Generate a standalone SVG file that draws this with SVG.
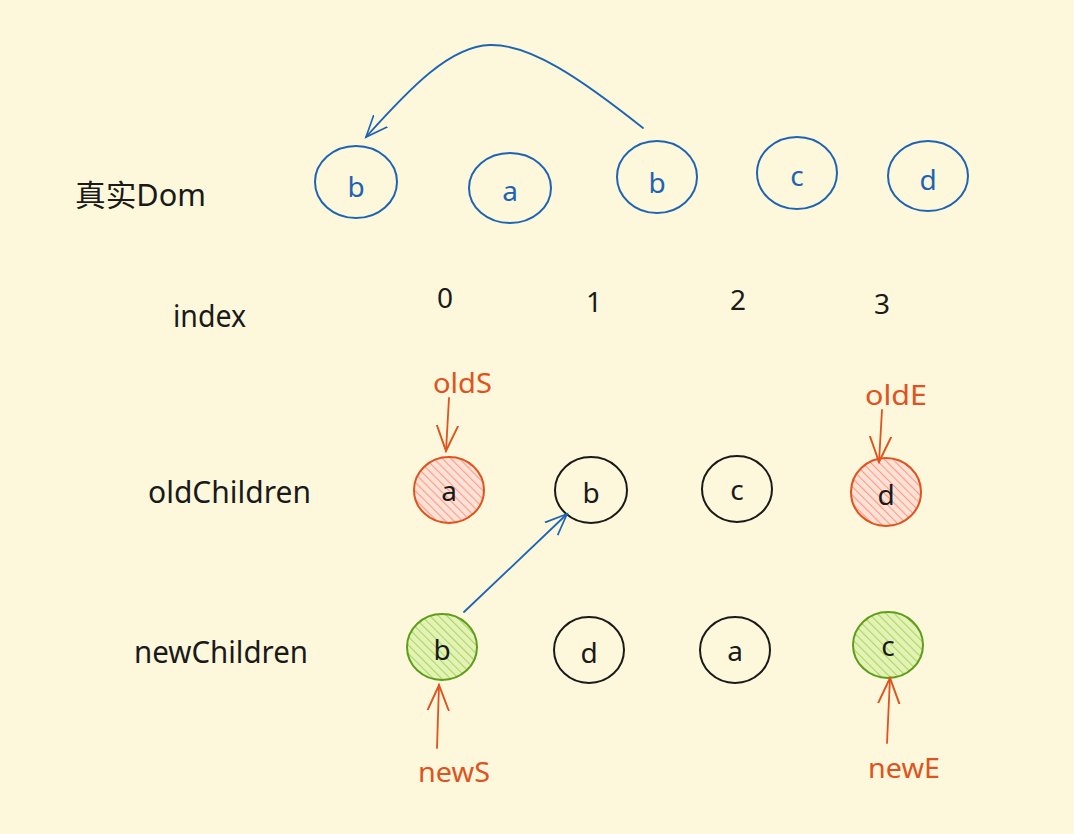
<svg xmlns="http://www.w3.org/2000/svg" width="1074" height="834" viewBox="0 0 1074 834">
<defs>
<pattern id="hatchRed" patternUnits="userSpaceOnUse" width="6" height="6" patternTransform="rotate(-45)">
<rect width="6" height="6" fill="#fde2d6"/>
<line x1="0" y1="0" x2="0" y2="6" stroke="#ff9a8a" stroke-width="2.2"/>
</pattern>
<pattern id="hatchGreen" patternUnits="userSpaceOnUse" width="6" height="6" patternTransform="rotate(-45)">
<rect width="6" height="6" fill="#e4f2b8"/>
<line x1="0" y1="0" x2="0" y2="6" stroke="#a9d95a" stroke-width="2.2"/>
</pattern>
<marker id="arrBlue" viewBox="0 0 20 20" refX="18" refY="10" markerWidth="24" markerHeight="24" markerUnits="userSpaceOnUse" orient="auto">
<path d="M0,2.5 L18,10 L0,17.5" fill="none" stroke="#1e64b4" stroke-width="1.4" stroke-linecap="round"/>
</marker>
<marker id="arrOrange" viewBox="0 0 20 20" refX="18" refY="10" markerWidth="28" markerHeight="28" markerUnits="userSpaceOnUse" orient="auto">
<path d="M0,2.5 L18,10 L0,17.5" fill="none" stroke="#e0531f" stroke-width="1.4" stroke-linecap="round"/>
</marker>
</defs>
<style>
text{font-family:"Noto Sans","Noto Sans CJK SC",sans-serif;}
.lbl{font-size:30px;fill:#1a1a1a;}
.num{font-size:28px;fill:#1a1a1a;text-anchor:middle;}
.ptr{font-size:28px;fill:#e0531f;}
.ltr{font-size:28px;text-anchor:middle;fill:#1a1a1a;}
.bl{fill:none;stroke:#1e64b4;stroke-width:2;}
.blt{font-size:28px;text-anchor:middle;fill:#1e64b4;}
.bk{fill:none;stroke:#1a1a1a;stroke-width:2;}
.rd{fill:url(#hatchRed);stroke:#e0531f;stroke-width:2;}
.gr{fill:url(#hatchGreen);stroke:#5e9e1c;stroke-width:2;}
.cb{fill:none;stroke:#1e64b4;stroke-width:1.8;stroke-linecap:round;}
.co{fill:none;stroke:#e0531f;stroke-width:1.8;stroke-linecap:round;}
</style>
<rect width="1074" height="834" fill="#fdf8db"/>

<g id="labels">
<text class="lbl" x="75" y="206" textLength="131" lengthAdjust="spacingAndGlyphs">真实Dom</text>
<text class="lbl" x="173" y="327" textLength="73" lengthAdjust="spacingAndGlyphs">index</text>
<text class="lbl" x="148" y="503" textLength="163" lengthAdjust="spacingAndGlyphs">oldChildren</text>
<text class="lbl" x="134" y="663" textLength="174" lengthAdjust="spacingAndGlyphs">newChildren</text>
<text class="num" x="445" y="308">0</text>
<text class="num" x="594" y="312">1</text>
<text class="num" x="738" y="310">2</text>
<text class="num" x="882" y="314">3</text>
<text class="ptr" x="433" y="393" textLength="59" lengthAdjust="spacingAndGlyphs">oldS</text>
<text class="ptr" x="865" y="405" textLength="62" lengthAdjust="spacingAndGlyphs">oldE</text>
<text class="ptr" x="418" y="782" textLength="72" lengthAdjust="spacingAndGlyphs">newS</text>
<text class="ptr" x="868" y="778" textLength="72" lengthAdjust="spacingAndGlyphs">newE</text>
</g>

<g id="dom-b1"><ellipse class="bl" cx="356" cy="182" rx="41" ry="36"/><text class="blt" x="356" y="197">b</text></g>
<g id="dom-a"><ellipse class="bl" cx="510" cy="188" rx="41" ry="35"/><text class="blt" x="510" y="201">a</text></g>
<g id="dom-b2"><ellipse class="bl" cx="657" cy="177" rx="40" ry="36"/><text class="blt" x="657" y="193">b</text></g>
<g id="dom-c"><ellipse class="bl" cx="797" cy="173" rx="40" ry="36"/><text class="blt" x="797" y="186">c</text></g>
<g id="dom-d"><ellipse class="bl" cx="928" cy="176" rx="40" ry="35"/><text class="blt" x="928" y="190">d</text></g>

<g id="old-a"><ellipse class="rd" cx="449" cy="490" rx="35" ry="33"/><text class="ltr" x="449" y="501">a</text></g>
<g id="old-b"><ellipse class="bk" cx="591" cy="490" rx="36" ry="33"/><text class="ltr" x="591" y="503">b</text></g>
<g id="old-c"><ellipse class="bk" cx="737" cy="489" rx="35" ry="33"/><text class="ltr" x="737" y="500">c</text></g>
<g id="old-d"><ellipse class="rd" cx="886" cy="492" rx="35" ry="34"/><text class="ltr" x="886" y="505">d</text></g>

<g id="new-b"><ellipse class="gr" cx="442" cy="647" rx="35" ry="33"/><text class="ltr" x="442" y="660">b</text></g>
<g id="new-d"><ellipse class="bk" cx="589" cy="650" rx="35" ry="33"/><text class="ltr" x="589" y="663">d</text></g>
<g id="new-a"><ellipse class="bk" cx="735" cy="650" rx="35" ry="33"/><text class="ltr" x="735" y="661">a</text></g>
<g id="new-c"><ellipse class="gr" cx="888" cy="645" rx="35" ry="33"/><text class="ltr" x="888" y="656">c</text></g>

<g id="connectors">
<path class="cb" d="M643,128 C580,78 530,44 490,45 C450,46 410,88 366,137" marker-end="url(#arrBlue)"/>
<path class="cb" d="M464,612 L567,514" marker-end="url(#arrBlue)"/>
<path class="co" d="M449,398 L446,451" marker-end="url(#arrOrange)"/>
<path class="co" d="M882,410 L879,462" marker-end="url(#arrOrange)"/>
<path class="co" d="M437,748 L439,685" marker-end="url(#arrOrange)"/>
<path class="co" d="M887,743 L890,678" marker-end="url(#arrOrange)"/>
</g>
</svg>
